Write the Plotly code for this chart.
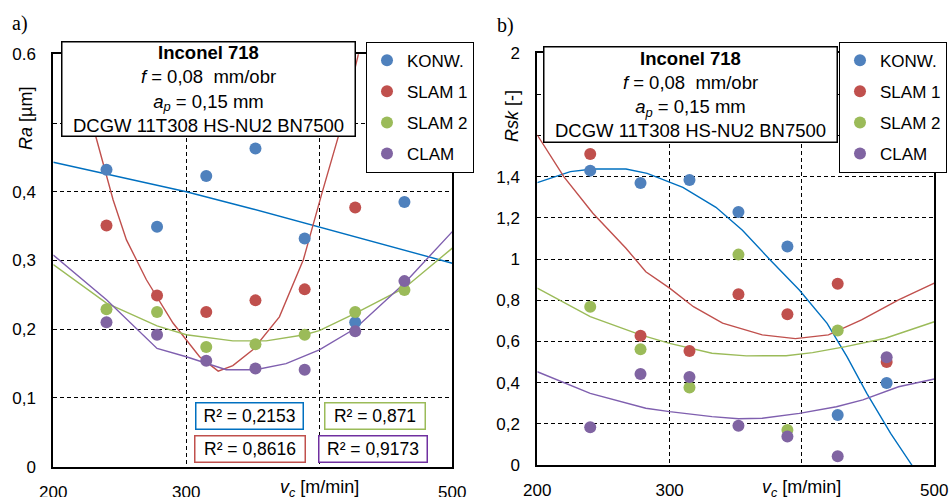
import plotly.graph_objects as go

W, H = 951, 497

# ---------------- data ----------------
series_names = ["KONW.", "SLAM 1", "SLAM 2", "CLAM"]
point_colors = ["#4F81BD", "#C0504D", "#9BBB59", "#8064A2"]
line_colors = ["#0070C0", "#C0504D", "#9BBB59", "#7F5FAF"]
box_colors = ["#0070C0", "#C0504D", "#9BBB59", "#7030A0"]

vc = [240, 278, 315, 352, 389, 427, 464]

# Ra [um] (panel a)
ra_konw = [0.432, 0.349, 0.423, 0.463, 0.332, 0.210, 0.385]
ra_slam1 = [0.351, 0.249, 0.225, 0.242, 0.258, 0.377, None]
ra_slam2 = [0.229, 0.225, 0.174, 0.178, 0.192, 0.225, 0.257]
ra_clam = [0.210, 0.192, 0.154, 0.143, 0.141, 0.197, 0.270]

# Rsk [-] (panel b)
rsk_konw = [1.430, 1.370, 1.385, 1.229, 1.061, 0.243, 0.398]
rsk_slam1 = [1.511, 0.628, 0.554, 0.829, 0.732, 0.881, 0.500]
rsk_slam2 = [0.769, 0.562, 0.377, 1.022, 0.170, 0.653, None]
rsk_clam = [0.183, 0.442, 0.428, 0.191, 0.139, 0.042, 0.523]

# trend lines
ra_tr_konw_x = [200, 250, 300, 350, 400, 450, 500]
ra_tr_konw_y = [0.443, 0.421, 0.400, 0.375, 0.349, 0.322, 0.296]
ra_tr_slam1_x = [212, 218, 232, 245, 255, 270, 290, 310, 324, 335, 350, 370, 388, 402, 415, 429, 436]
ra_tr_slam1_y = [0.65, 0.60, 0.48, 0.388, 0.330, 0.272, 0.209, 0.160, 0.139, 0.147, 0.170, 0.218, 0.301, 0.398, 0.485, 0.597, 0.66]
ra_tr_slam2_x = [200, 240, 278, 300, 335, 360, 389, 400, 427, 464, 500]
ra_tr_slam2_y = [0.294, 0.238, 0.205, 0.192, 0.183, 0.183, 0.192, 0.198, 0.223, 0.260, 0.318]
ra_tr_clam_x = [200, 240, 278, 300, 330, 352, 375, 400, 427, 464, 500]
ra_tr_clam_y = [0.308, 0.243, 0.172, 0.160, 0.141, 0.141, 0.150, 0.170, 0.201, 0.267, 0.342]

rsk_tr_konw_x = [200, 225, 242, 267, 283, 310, 335, 355, 376, 398, 419, 434, 449, 467, 483, 490]
rsk_tr_konw_y = [1.372, 1.425, 1.438, 1.438, 1.417, 1.349, 1.252, 1.140, 0.996, 0.850, 0.688, 0.526, 0.348, 0.154, 0.0, -0.09]
rsk_tr_slam1_x = [200, 220, 242, 267, 282, 300, 318, 340, 370, 395, 420, 445, 473, 500]
rsk_tr_slam1_y = [1.603, 1.401, 1.223, 1.053, 0.939, 0.859, 0.769, 0.689, 0.632, 0.614, 0.632, 0.705, 0.802, 0.883]
rsk_tr_slam2_x = [200, 240, 278, 300, 332, 358, 388, 408, 433, 463, 500]
rsk_tr_slam2_y = [0.859, 0.721, 0.632, 0.591, 0.543, 0.530, 0.531, 0.546, 0.575, 0.616, 0.696]
rsk_tr_clam_x = [200, 240, 282, 300, 332, 352, 370, 398, 426, 446, 473, 500]
rsk_tr_clam_y = [0.453, 0.348, 0.276, 0.259, 0.235, 0.225, 0.227, 0.251, 0.283, 0.316, 0.380, 0.418]

r2_labels_a = ["R² = 0,2153", "R² = 0,8616", "R² = 0,871", "R² = 0,9173"]

# labelled ticks and extra (unlabelled) grid positions
x_ticks = [200, 300, 500]
x_ticktext = ["200", "300", "500"]
x_grid_extra = [400]
ra_ticks = [0, 0.1, 0.2, 0.3, 0.4, 0.6]
ra_ticktext = ["0", "0,1", "0,2", "0,3", "0,4", "0.6"]
ra_grid_extra = [0.5]
rsk_ticks = [0, 0.2, 0.4, 0.6, 0.8, 1.0, 1.2, 1.4, 2.0]
rsk_ticktext = ["0", "0,2", "0,4", "0,6", "0,8", "1", "1,2", "1,4", "2"]
rsk_grid_extra = [1.6, 1.8]

info_text = ("<b>Inconel 718</b><br><i>f</i> = 0,08  mm/obr<br>"
             "<i>a<sub>p</sub></i> = 0,15 mm<br>DCGW 11T308 HS-NU2 BN7500")

FONT = "Liberation Sans, Arial, sans-serif"


def px(x):
    return x / W


def py(y):
    return 1 - y / H


fig = go.Figure()

pts_a = [ra_konw, ra_slam1, ra_slam2, ra_clam]
pts_b = [rsk_konw, rsk_slam1, rsk_slam2, rsk_clam]
tr_a = [(ra_tr_konw_x, ra_tr_konw_y), (ra_tr_slam1_x, ra_tr_slam1_y),
        (ra_tr_slam2_x, ra_tr_slam2_y), (ra_tr_clam_x, ra_tr_clam_y)]
tr_b = [(rsk_tr_konw_x, rsk_tr_konw_y), (rsk_tr_slam1_x, rsk_tr_slam1_y),
        (rsk_tr_slam2_x, rsk_tr_slam2_y), (rsk_tr_clam_x, rsk_tr_clam_y)]

for i in range(4):
    fig.add_trace(go.Scatter(x=tr_a[i][0], y=tr_a[i][1], mode="lines",
                             line=dict(color=line_colors[i], width=1.4),
                             showlegend=False, xaxis="x", yaxis="y", hoverinfo="skip"))
    fig.add_trace(go.Scatter(x=tr_b[i][0], y=tr_b[i][1], mode="lines",
                             line=dict(color=line_colors[i], width=1.4),
                             showlegend=False, xaxis="x2", yaxis="y2", hoverinfo="skip"))

for i in range(4):
    fig.add_trace(go.Scatter(x=vc, y=pts_a[i], mode="markers", name=series_names[i],
                             marker=dict(color=point_colors[i], size=12),
                             legend="legend", legendgroup="a%d" % i,
                             xaxis="x", yaxis="y"))
for i in range(4):
    fig.add_trace(go.Scatter(x=vc, y=pts_b[i], mode="markers", name=series_names[i],
                             marker=dict(color=point_colors[i], size=12),
                             legend="legend2", legendgroup="b%d" % i,
                             xaxis="x2", yaxis="y2"))

GRID = dict(gridcolor="black", gridwidth=1, griddash="4px,3px")
axis_common = dict(showline=True, mirror=True, linecolor="black", linewidth=2,
                   showgrid=True, zeroline=False, ticks="",
                   automargin=False,
                   tickfont=dict(size=17, color="black", family=FONT), **GRID)


def minor(vals):
    return dict(tickvals=vals, showgrid=True, ticks="", **GRID)


fig.update_layout(
    width=W, height=H,
    margin=dict(l=0, r=0, t=0, b=0, autoexpand=False),
    paper_bgcolor="white", plot_bgcolor="white",
    font=dict(family=FONT, size=17, color="black"),
    xaxis=dict(domain=[px(53.3), px(452.3)], range=[200, 500], tickvals=x_ticks,
               ticktext=x_ticktext, anchor="y", minor=minor(x_grid_extra),
               ticklabelstandoff=9, **axis_common),
    yaxis=dict(domain=[py(466.7), py(54.3)], range=[0, 0.6], tickvals=ra_ticks,
               ticktext=ra_ticktext, anchor="x", minor=minor(ra_grid_extra),
               ticklabelstandoff=12, **axis_common),
    xaxis2=dict(domain=[px(537.3), px(934.3)], range=[200, 500], tickvals=x_ticks,
                ticktext=x_ticktext, anchor="y2", minor=minor(x_grid_extra),
                ticklabelstandoff=9, **axis_common),
    yaxis2=dict(domain=[py(465), py(53.3)], range=[0, 2], tickvals=rsk_ticks,
                ticktext=rsk_ticktext, anchor="x2", minor=minor(rsk_grid_extra),
                ticklabelstandoff=12, **axis_common),
    legend=dict(x=px(366), y=py(41.7), xanchor="left", yanchor="top",
                bordercolor="black", borderwidth=1, bgcolor="white",
                font=dict(size=17, family=FONT), tracegroupgap=6, traceorder="grouped"),
    legend2=dict(x=px(839), y=py(41.7), xanchor="left", yanchor="top",
                 bordercolor="black", borderwidth=1, bgcolor="white",
                 font=dict(size=17, family=FONT), tracegroupgap=6, traceorder="grouped"),
    showlegend=True,
)

ann = []
C = dict(xref="paper", yref="paper", showarrow=False, xanchor="center", yanchor="middle")
# panel labels
ann.append(dict(text="a)", x=px(20), y=py(24), **C,
                font=dict(family="Liberation Serif, Times New Roman, serif", size=20)))
ann.append(dict(text="b)", x=px(505), y=py(25), **C,
                font=dict(family="Liberation Serif, Times New Roman, serif", size=20)))
# info boxes
ann.append(dict(text=info_text, x=px(208), y=py(88.5), **C,
                width=292, height=93, bordercolor="black", borderwidth=1.5,
                borderpad=0, bgcolor="white", align="center", valign="middle",
                font=dict(size=18.5, family=FONT)))
ann.append(dict(text=info_text, x=px(690.8), y=py(94.5), **C,
                width=292, height=94, bordercolor="black", borderwidth=1.5,
                borderpad=0, bgcolor="white", align="center", valign="middle",
                font=dict(size=18.5, family=FONT)))
# axis titles
ann.append(dict(text="<i>Ra</i> [µm]", x=px(26), y=py(119), **C,
                textangle=-90, font=dict(size=18, family=FONT)))
ann.append(dict(text="<i>Rsk</i> [-]", x=px(512), y=py(116), **C,
                textangle=-90, font=dict(size=18, family=FONT)))
ann.append(dict(text="<i>v<sub>c</sub></i> [m/min]", x=400, y=py(488), xref="x", yref="paper",
                showarrow=False, xanchor="center", yanchor="middle",
                font=dict(size=18, family=FONT)))
ann.append(dict(text="<i>v<sub>c</sub></i> [m/min]", x=400, y=py(488), xref="x2", yref="paper",
                showarrow=False, xanchor="center", yanchor="middle",
                font=dict(size=18, family=FONT)))
# R^2 boxes
r2_pos = [(249.9, 416.2, 106), (249.8, 449.2, 109), (375.4, 416.3, 99), (372.8, 449.2, 107)]
for i in range(4):
    cx, cy, w = r2_pos[i]
    ann.append(dict(text=r2_labels_a[i], x=px(cx), y=py(cy), **C,
                    width=w, height=25, bordercolor=box_colors[i],
                    borderwidth=1.5, borderpad=0, bgcolor="white",
                    font=dict(size=17.5, family=FONT)))

fig.update_layout(annotations=ann)

fig.write_html("out.html", config={"displayModeBar": False},
               post_script="document.body.style.margin='0';")
